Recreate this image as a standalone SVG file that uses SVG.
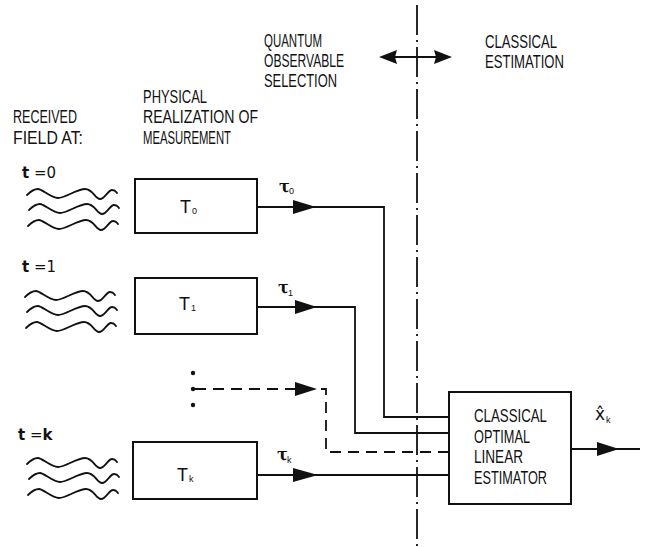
<svg xmlns="http://www.w3.org/2000/svg" width="650" height="547" viewBox="0 0 650 547">
<style>
.lbl{font-family:"Liberation Sans","DejaVu Sans",sans-serif;font-size:17.5px;fill:#111}
.tl{font-family:"DejaVu Sans","Liberation Sans",sans-serif;font-size:15px;fill:#111}
.b{font-weight:bold}
.sym{font-family:"Liberation Sans",sans-serif;font-size:18px;fill:#111}
.sub{font-family:"Liberation Sans",sans-serif;font-size:9px;fill:#111}
.hat{font-family:"DejaVu Sans","Liberation Sans",sans-serif;font-size:17px;fill:#111}
.tau{font-family:"DejaVu Serif","Liberation Serif",serif;font-size:16px;fill:#111;font-weight:bold}
.box{fill:#fff;stroke:#111;stroke-width:2}
.ln{fill:none;stroke:#111;stroke-width:1.8}
.dash{fill:none;stroke:#111;stroke-width:1.8;stroke-dasharray:11 7}
.wave{fill:none;stroke:#111;stroke-width:1.8;stroke-linecap:round}
.ah{fill:#111}
</style>
<defs>
<path id="wave" class="wave" d="M0,1 C4,-3 7,-5 11,-5 S24,4 31,4 S50,-5 58,-5 S68,5 73,5 S81,-4 85,-4 S89,-2 90,-1"/>
<g id="waves">
<use href="#wave" x="0" y="0"/>
<use href="#wave" x="2" y="15"/>
<use href="#wave" x="1" y="31"/>
</g>
</defs>

<!-- header texts -->
<g id="headers">
<text class="lbl" x="13" y="123" textLength="64" lengthAdjust="spacingAndGlyphs">RECEIVED</text>
<text class="lbl" x="13" y="144" textLength="70" lengthAdjust="spacingAndGlyphs">FIELD AT:</text>
<text class="lbl" x="143" y="103" textLength="64" lengthAdjust="spacingAndGlyphs">PHYSICAL</text>
<text class="lbl" x="143" y="123" textLength="115" lengthAdjust="spacingAndGlyphs">REALIZATION OF</text>
<text class="lbl" x="143" y="144" textLength="88" lengthAdjust="spacingAndGlyphs">MEASUREMENT</text>
<text class="lbl" x="264" y="47" textLength="58" lengthAdjust="spacingAndGlyphs">QUANTUM</text>
<text class="lbl" x="264" y="67" textLength="80" lengthAdjust="spacingAndGlyphs">OBSERVABLE</text>
<text class="lbl" x="264" y="87" textLength="73" lengthAdjust="spacingAndGlyphs">SELECTION</text>
<text class="lbl" x="485" y="48" textLength="72" lengthAdjust="spacingAndGlyphs">CLASSICAL</text>
<text class="lbl" x="485" y="68" textLength="79" lengthAdjust="spacingAndGlyphs">ESTIMATION</text>
</g>

<!-- boundary line and double arrow -->
<g id="boundary">
<line class="ln" x1="417" y1="5" x2="417" y2="547" stroke-dasharray="30 5 2 5" stroke-width="1.6"/>
<line class="ln" x1="390" y1="57" x2="441" y2="57"/>
<polygon class="ah" points="379,57 397,50 395,57 397,64"/>
<polygon class="ah" points="452,57 434,50 436,57 434,64"/>
</g>

<!-- time labels and waves -->
<g id="field-t0">
<text class="tl" x="22" y="178"><tspan class="b">t</tspan> =0</text>
<use href="#waves" x="27" y="194"/>
</g>
<g id="field-t1">
<text class="tl" x="22" y="272"><tspan class="b">t</tspan> =1</text>
<use href="#waves" x="25" y="296"/>
</g>
<g id="field-tk">
<text class="tl" x="18" y="440"><tspan class="b">t</tspan> =<tspan class="b">k</tspan></text>
<use href="#waves" x="27" y="463"/>
</g>

<!-- measurement boxes -->
<g id="T0">
<rect class="box" x="135" y="179" width="122" height="54"/>
<text class="sym" x="180" y="213">T</text><text class="sub" x="192" y="214">0</text>
</g>
<g id="T1">
<rect class="box" x="135" y="278" width="122" height="56"/>
<text class="sym" x="179" y="310">T</text><text class="sub" x="191" y="311">1</text>
</g>
<g id="Tk">
<rect class="box" x="133" y="442" width="124" height="57"/>
<text class="sym" x="177" y="481">T</text><text class="sub" x="189" y="482">k</text>
</g>

<!-- ellipsis -->
<g id="ellipsis">
<circle cx="193" cy="373" r="2.2" fill="#111"/>
<circle cx="193" cy="389" r="2.2" fill="#111"/>
<circle cx="193" cy="405" r="2.2" fill="#111"/>
</g>

<!-- estimator -->
<g id="estimator">
<rect class="box" x="449" y="392" width="122" height="112"/>
<text class="lbl" x="474" y="422" textLength="73" lengthAdjust="spacingAndGlyphs">CLASSICAL</text>
<text class="lbl" x="474" y="443" textLength="56" lengthAdjust="spacingAndGlyphs">OPTIMAL</text>
<text class="lbl" x="474" y="463" textLength="49" lengthAdjust="spacingAndGlyphs">LINEAR</text>
<text class="lbl" x="474" y="484" textLength="73" lengthAdjust="spacingAndGlyphs">ESTIMATOR</text>
</g>

<!-- connectors -->
<g id="connectors">
<path class="ln" d="M257,207 H384 V417 H449"/>
<polygon class="ah" points="293,200 316,207 293,214"/>
<text class="tau" x="279" y="192">τ</text><text class="sub" x="289" y="194">0</text>

<path class="ln" d="M257,307 H355 V433 H449"/>
<polygon class="ah" points="295,300 317,307 295,314"/>
<text class="tau" x="278" y="293">τ</text><text class="sub" x="288" y="296">1</text>

<path class="dash" d="M195,389 H326 V452 H449"/>
<polygon class="ah" points="295,382 317,389 295,396"/>

<path class="ln" d="M257,475 H449"/>
<polygon class="ah" points="293,468 318,475 293,482"/>
<text class="tau" x="277" y="460">τ</text><text class="sub" x="287" y="463">k</text>

<path class="ln" d="M571,449 H640"/>
<polygon class="ah" points="597,442 619,449 597,456"/>
<text class="hat" x="595" y="420">x&#770;</text>
<text class="sub" x="606" y="423">k</text>
</g>
</svg>
